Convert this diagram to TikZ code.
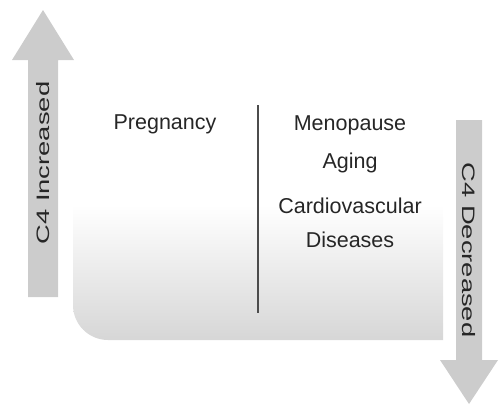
\documentclass[tikz,border=0pt]{standalone}
\usepackage{fontspec}
\setmainfont{Liberation Sans}
\begin{document}
\begin{tikzpicture}[x=1pt, y=-1pt,
	bigarrow/.style={fill=gray!40, draw=none},
	arrowtext/.style={font=\fontsize{18}{20}\selectfont, text=black!85, inner sep=0pt},
	cause/.style={font=\fontsize{21.5}{34}\selectfont, text=black!85, align=center, anchor=base}]
	\useasboundingbox (0,0) rectangle (502,405);
	% shaded panel
	\shade[top color=white, bottom color=white!84!black]
		(443,205) -- (73,205) -- (73,305) arc[start angle=180, end angle=90, radius=35] -- (443,340) -- cycle;
	\draw[line width=1.6pt, black!70] (258,105) -- (258,313);
	% the two arrows
	\fill[bigarrow] (28,297) -- (28,60) -- (12,60) -- (43,10) -- (74,60) -- (58,60) -- (58,297) -- cycle;
	\fill[bigarrow] (456,120) -- (456,360) -- (440,360) -- (469,404) -- (498,360) -- (482,360) -- (482,120) -- cycle;
		\node[arrowtext, rotate=90] (incr) at (43,163) {\scalebox{1.52}[1]{C4 Increased}};
		\node[arrowtext, rotate=-90] (decr) at (469,250) {\scalebox{1.52}[1]{C4 Decreased}};
	% conditions
	\node[cause] (preg) at (165,129) {Pregnancy};
	\node[cause] (meno) at (350,130) {Menopause};
	\node[cause] (aging) at (350,168) {Aging};
	\node[cause] (cardio) at (350,247) {Cardiovascular\\Diseases};
\end{tikzpicture}
\end{document}
